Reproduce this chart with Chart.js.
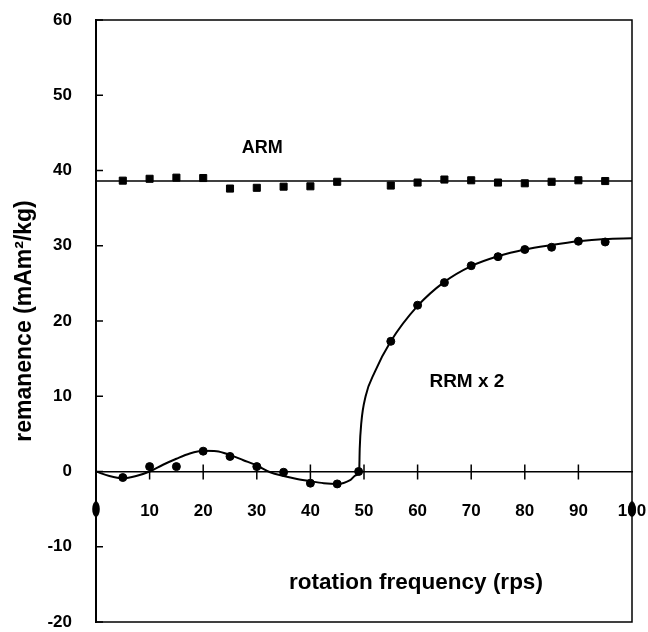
<!DOCTYPE html>
<html>
<head>
<meta charset="utf-8">
<script src="https://cdn.jsdelivr.net/npm/chart.js@4.4.1/dist/chart.umd.min.js"></script>
<style>
  html, body { margin: 0; padding: 0; background: #fff; }
  #wrap { width: 648px; height: 632px; }
</style>
</head>
<body>
<div id="wrap"><canvas id="remChart" width="648" height="632"></canvas></div>
<script>
// ARM measurements (squares)
const armFreq = [5, 10, 15, 20, 25, 30, 35, 40, 45, 55, 60, 65, 70, 75, 80, 85, 90, 95];
const armValue = [38.65, 38.9, 39.05, 39.0, 37.6, 37.7, 37.85, 37.9, 38.5, 38.0, 38.4, 38.8, 38.7, 38.4, 38.3, 38.5, 38.7, 38.6];
// ARM mean line
const armLineFreq = [0, 100];
const armLineValue = [38.6, 38.6];

// RRM x 2 measurements (circles)
const rrmFreq = [5, 10, 15, 20, 25, 30, 35, 40, 45, 49, 55, 60, 65, 70, 75, 80, 85, 90, 95];
const rrmValue = [-0.8, 0.65, 0.65, 2.7, 2.0, 0.65, -0.1, -1.55, -1.65, 0, 17.3, 22.1, 25.1, 27.35, 28.55, 29.5, 29.8, 30.6, 30.5];

// RRM fitted curve
const fitFreq = [0, 2.5, 5, 7.5, 10, 12.5, 15, 17.5, 20, 22.5, 25, 27.5, 30, 32.5, 35, 37.5, 40, 42.5, 45, 47.5, 48.5, 49.1, 49.2, 49.5, 50.3, 52, 55, 60, 65, 70, 75, 80, 85, 90, 95, 100];
const fitValue = [0, -0.6, -0.9, -0.6, 0.0, 0.9, 1.7, 2.4, 2.75, 2.7, 2.2, 1.5, 0.8, -0.1, -0.6, -1.0, -1.3, -1.55, -1.65, -1.1, -0.5, 0, 3, 6.5, 10, 13.2, 17.3, 22, 25.2, 27.3, 28.6, 29.5, 30.1, 30.6, 30.9, 31.0];

// the two blobs on the x tick row
const blobFreq = [0, 100];
const blobValue = [-5, -5];

const xTicks = [0, 10, 20, 30, 40, 50, 60, 70, 80, 90, 100];
const yTicks = [-20, -10, 0, 10, 20, 30, 40, 50, 60];

const fontFam = '"Liberation Sans", Arial, Helvetica, sans-serif';

const toPoints = (xs, ys) => xs.map((x, i) => ({x: x, y: ys[i]}));

// tall ellipse used as point style for the blobs
const blob = document.createElement('canvas');
blob.width = 8;
blob.height = 16;
let bctx = blob.getContext('2d');
bctx.fillStyle = '#000';
bctx.beginPath();
bctx.ellipse(4, 8, 3.8, 7.8, 0, 0, Math.PI * 2);
bctx.fill();

// frame, crossing ticks and free text
const framePlugin = {
    id: 'framePlugin',
    afterDraw(chart) {
        const ctx = chart.ctx;
        const area = chart.chartArea;
        const xs = chart.scales.x;
        const ys = chart.scales.y;
        ctx.save();
        ctx.strokeStyle = '#000';
        ctx.lineWidth = 1.5;
        ctx.strokeRect(area.left, area.top, area.right - area.left, area.bottom - area.top);

        // x ticks across the zero line
        const y0 = ys.getPixelForValue(0);
        ctx.beginPath();
        xTicks.forEach(v => {
            if (v === 0 || v === 100) return;
            const px = xs.getPixelForValue(v);
            ctx.moveTo(px, y0 - 7);
            ctx.lineTo(px, y0 + 8);
        });
        // y ticks pointing inside
        yTicks.forEach(v => {
            const py = ys.getPixelForValue(v);
            ctx.moveTo(area.left, py);
            ctx.lineTo(area.left + 7, py);
        });
        ctx.stroke();

        ctx.fillStyle = '#000';
        ctx.textAlign = 'center';
        ctx.textBaseline = 'middle';
        ctx.font = 'bold 18px ' + fontFam;
        ctx.fillText('ARM', xs.getPixelForValue(31), ys.getPixelForValue(43));
        ctx.font = 'bold 19px ' + fontFam;
        ctx.fillText('RRM x 2', xs.getPixelForValue(69.2), ys.getPixelForValue(11.9));
        ctx.font = 'bold 22.5px ' + fontFam;
        ctx.fillText('rotation frequency (rps)', xs.getPixelForValue(59.7), ys.getPixelForValue(-14.8));
        ctx.restore();
    }
};

const chartCtx = document.getElementById('remChart').getContext('2d');
const remChart = new Chart(chartCtx, {
    type: 'scatter',
    data: {
        datasets: [
            {
                label: 'ARM line',
                data: toPoints(armLineFreq, armLineValue),
                showLine: true,
                borderColor: '#000',
                borderWidth: 1.5,
                pointRadius: 0
            },
            {
                label: 'RRM fit',
                data: toPoints(fitFreq, fitValue),
                showLine: true,
                borderColor: '#000',
                borderWidth: 2,
                pointRadius: 0,
                cubicInterpolationMode: 'monotone'
            },
            {
                label: 'ARM',
                data: toPoints(armFreq, armValue),
                pointStyle: 'rect',
                pointRadius: 5,
                backgroundColor: '#000',
                borderColor: '#000',
                borderWidth: 1
            },
            {
                label: 'RRM x 2',
                data: toPoints(rrmFreq, rrmValue),
                pointStyle: 'circle',
                pointRadius: 4,
                backgroundColor: '#000',
                borderColor: '#000',
                borderWidth: 1
            },
            {
                label: 'blobs',
                data: toPoints(blobFreq, blobValue),
                pointStyle: blob,
                pointRadius: 8,
                clip: false
            }
        ]
    },
    options: {
        responsive: false,
        animation: false,
        layout: { padding: { top: 20, right: 16, bottom: 10, left: 0 } },
        plugins: {
            legend: { display: false },
            tooltip: { enabled: false }
        },
        scales: {
            x: {
                type: 'linear',
                position: { y: 0 },
                min: 0,
                max: 100,
                grid: { display: false, drawTicks: false },
                border: { display: true, color: '#000', width: 1.5 },
                afterFit: (scale) => {
                    scale.paddingLeft = 0;
                    scale.paddingRight = 0;
                    scale.paddingTop = 0;
                    scale.paddingBottom = 0;
                },
                ticks: {
                    stepSize: 10,
                    padding: 30,
                    color: '#000',
                    font: { family: fontFam, size: 17, weight: 'bold' },
                    callback: (v) => v === 0 ? '' : v
                }
            },
            y: {
                min: -20,
                max: 60,
                grid: { display: false, drawTicks: false },
                border: { display: true, color: '#000', width: 2 },
                afterFit: (scale) => {
                    scale.width = 96;
                    scale.paddingTop = 0;
                    scale.paddingBottom = 0;
                },
                ticks: {
                    stepSize: 10,
                    padding: 24,
                    color: '#000',
                    font: { family: fontFam, size: 17, weight: 'bold' }
                },
                title: {
                    display: true,
                    text: 'remanence (mAm²/kg)',
                    color: '#000',
                    padding: { top: 11, bottom: 0 },
                    font: { family: fontFam, size: 23, weight: 'bold' }
                }
            }
        }
    },
    plugins: [framePlugin]
});
</script>
</body>
</html>
